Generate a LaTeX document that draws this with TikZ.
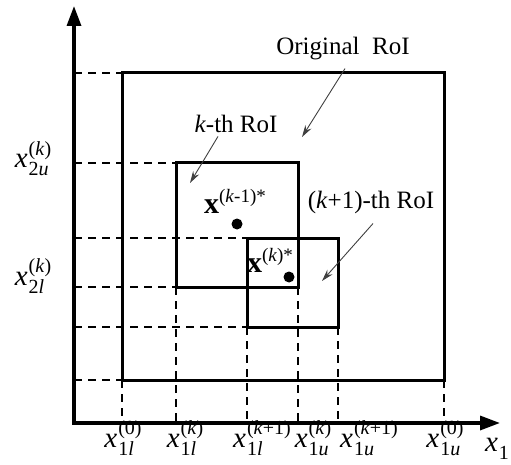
\documentclass[tikz,border=0pt]{standalone}
\usepackage{fontspec}
\setmainfont{Liberation Serif}
\usetikzlibrary{arrows.meta,calc}
\newlength\xsupw
\newlength\xsubw
\newcommand{\bigx}[1]{{\fontsize{30}{30}\selectfont\textbf{x}}\raisebox{11pt}{\fontsize{19}{19}\selectfont #1}}
\newcommand{\xlab}[2]{\textit{x}\kern1pt{\fontsize{20}{20}\selectfont
  \settowidth\xsupw{#2}\settowidth\xsubw{#1}\ifdim\xsubw>\xsupw\xsupw=\xsubw\fi
  \raisebox{12.5pt}{\makebox[0pt][l]{#2}}\raisebox{-8pt}{\makebox[\xsupw][l]{#1}}}}
\begin{document}
\begin{tikzpicture}[x=1pt,y=-1pt,
  box/.style={line width=3pt},
  dline/.style={dash pattern=on 8pt off 6pt, line width=2pt},
  axis/.style={line width=3.3pt, -{Triangle[length=20pt,width=14pt]}},
  ptr/.style={line width=0.9pt, black!75, -{Stealth[length=12pt,width=7pt,inset=4pt]}},
  txt/.style={font=\fontsize{25}{28}\selectfont, inner sep=0pt, anchor=base},
  mlbl/.style={font=\fontsize{29}{30}\selectfont, inner sep=0pt, anchor=base},
  dot/.style={circle, fill=black, inner sep=0pt, minimum size=11pt}]
\useasboundingbox (0,0) rectangle (511,465);
% axes
\coordinate (O) at (74,423);
\coordinate (ytip) at (74,6);
\coordinate (xtip) at (500,423);
% boxes
\coordinate (o1) at (122,73);  \coordinate (o2) at (444,380);
\coordinate (k1) at (176,163); \coordinate (k2) at (298,287);
\coordinate (n1) at (247,238); \coordinate (n2) at (338,327);
% dashed guides
\draw[dline] (O |- o1) -- (o1);
\draw[dline] (O |- k1) -- (k1);
\draw[dline] (O |- n1) -- (n1);
\draw[dline] (O |- k2) -- (k1 |- k2);
\draw[dline] (O |- n2) -- (n1 |- n2);
\draw[dline] (O |- o2) -- (o1 |- o2);
\draw[dline] (o1 |- o2) -- (o1 |- O);
\draw[dline] (k1 |- k2) -- (k1 |- O);
\draw[dline] (n1 |- n2) -- (n1 |- O);
\draw[dline] (k2) -- (k2 |- O);
\draw[dline] (n2) -- (n2 |- O);
\draw[dline] (o2) -- (o2 |- O);
% rectangles
\draw[box] (o1) rectangle (o2);
\draw[box] (k1) rectangle (k2);
\draw[box] (n1) rectangle (n2);
% axes
\draw[axis] (O) -- (ytip);
\draw[axis] ([xshift=-1.65pt]O) -- (xtip);
% points
\node[dot] (p1) at (237,224) {};
\node[dot] (p2) at (289,277) {};
\node[txt] (p1lab) at (235,213) {\bigx{(\textit{k}-1)*}};
\node[txt] (p2lab) at (270,272) {\bigx{(\textit{k})*}};
% region labels
\node[txt] (orig) at (343,55) {Original\enspace RoI};
\node[txt] (klab) at (236,133) {\textit{k}-th RoI};
\node[txt] (nlab) at (371,208) {(\textit{k}+1)-th RoI};
\coordinate (origtip) at (302,137);
\coordinate (ktip) at (190,183);
\coordinate (ntip) at (322,281);
\draw[ptr] ($(orig.south)+(2,8)$) -- (origtip);
\draw[ptr] ($(klab.south)+(-18,3)$) -- (ktip);
\draw[ptr] ($(nlab.south)+(2,10)$) -- (ntip);
% axis labels
\node[mlbl] (y2u) at (33,168) {\xlab{2\textit{u}}{(\textit{k})}};
\node[mlbl] (y2l) at (33,285) {\xlab{2\textit{l}}{(\textit{k})}};
\node[mlbl] (a1) at (123,447) {\xlab{1\textit{l}}{(0)}};
\node[mlbl] (a2) at (185,447) {\xlab{1\textit{l}}{(\textit{k})}};
\node[mlbl] (a3) at (262,447) {\xlab{1\textit{l}}{(\textit{k}+1)}};
\node[mlbl] (a4) at (313,447) {\xlab{1\textit{u}}{(\textit{k})}};
\node[mlbl] (a5) at (369,447) {\xlab{1\textit{u}}{(\textit{k}+1)}};
\node[mlbl] (a6) at (445,447) {\xlab{1\textit{u}}{(0)}};
\node[mlbl] (x1) at (497,451) {\textit{x}\kern1pt\raisebox{-8pt}{\fontsize{20}{20}\selectfont 1}};
\end{tikzpicture}
\end{document}
